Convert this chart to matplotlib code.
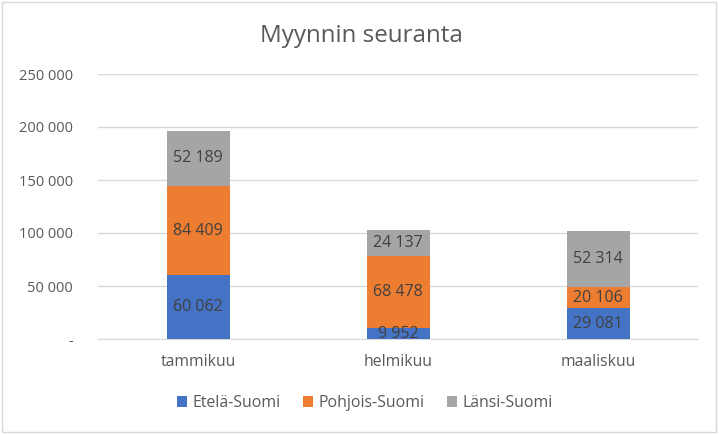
import matplotlib
matplotlib.use("Agg")
import matplotlib.pyplot as plt
import numpy as np
from matplotlib.ticker import FixedLocator

categories = ["tammikuu", "helmikuu", "maaliskuu"]
series_names = ["Etelä-Suomi", "Pohjois-Suomi", "Länsi-Suomi"]
etela = [60062, 9952, 29081]
pohjois = [84409, 68478, 20106]
lansi = [52189, 24137, 52314]
yticks = [0, 50000, 100000, 150000, 200000, 250000]
ytick_labels = ["-", "50 000", "100 000", "150 000", "200 000", "250 000"]
colors = ["#4472C4", "#ED7D31", "#A5A5A5"]

plt.rcParams['font.family'] = ['Open Sans', 'DejaVu Sans']

fig = plt.figure(figsize=(7.19, 4.34), dpi=100)
ax = fig.add_axes([98/719, 95/434, 600/719, 265/434])

x = np.arange(len(categories))
bottom = np.zeros(len(categories))
data = [etela, pohjois, lansi]
for vals, name, c in zip(data, series_names, colors):
    vals = np.array(vals)
    ax.bar(x, vals, 0.315, bottom=bottom, color=c, label=name, zorder=3)
    for xi, b, v in zip(x, bottom, vals):
        ax.text(xi, b + v/2, f"{v:,}".replace(",", " "), ha="center", va="center",
                fontsize=11.5, color="#404040", zorder=4)
    bottom += vals

ax.set_xlim(-0.5, 2.5)
ax.set_ylim(0, 250000)
ax.yaxis.set_major_locator(FixedLocator(yticks))
ax.set_yticklabels(ytick_labels)
ax.set_xticks(x)
ax.set_xticklabels(categories)
ax.grid(axis="y", color="#D9D9D9", linewidth=1, zorder=0)
for s in ["top", "right", "left"]:
    ax.spines[s].set_visible(False)
ax.spines["bottom"].set_color("#D9D9D9")
ax.tick_params(axis="y", length=0, labelsize=10.5, labelcolor="#595959", pad=18)
ax.tick_params(axis="x", length=0, labelsize=11.3, labelcolor="#595959", pad=11)

fig.text(361/719, 1 - 36/434, "Myynnin seuranta", ha="center", va="center",
         fontsize=17.4, color="#595959")

leg = ax.legend(loc="center", bbox_to_anchor=(0.445, -64/265), ncol=3, frameon=False,
                fontsize=11.4, handlelength=0.65, handleheight=0.65, handletextpad=0.35,
                columnspacing=1.4, labelcolor="#595959")

border = plt.Rectangle((2/719, 2/434), 714/719, 430/434, transform=fig.transFigure,
                       fill=False, edgecolor="#D9D9D9", linewidth=1)
fig.patches.append(border)

fig.savefig("out.png", dpi=100)
